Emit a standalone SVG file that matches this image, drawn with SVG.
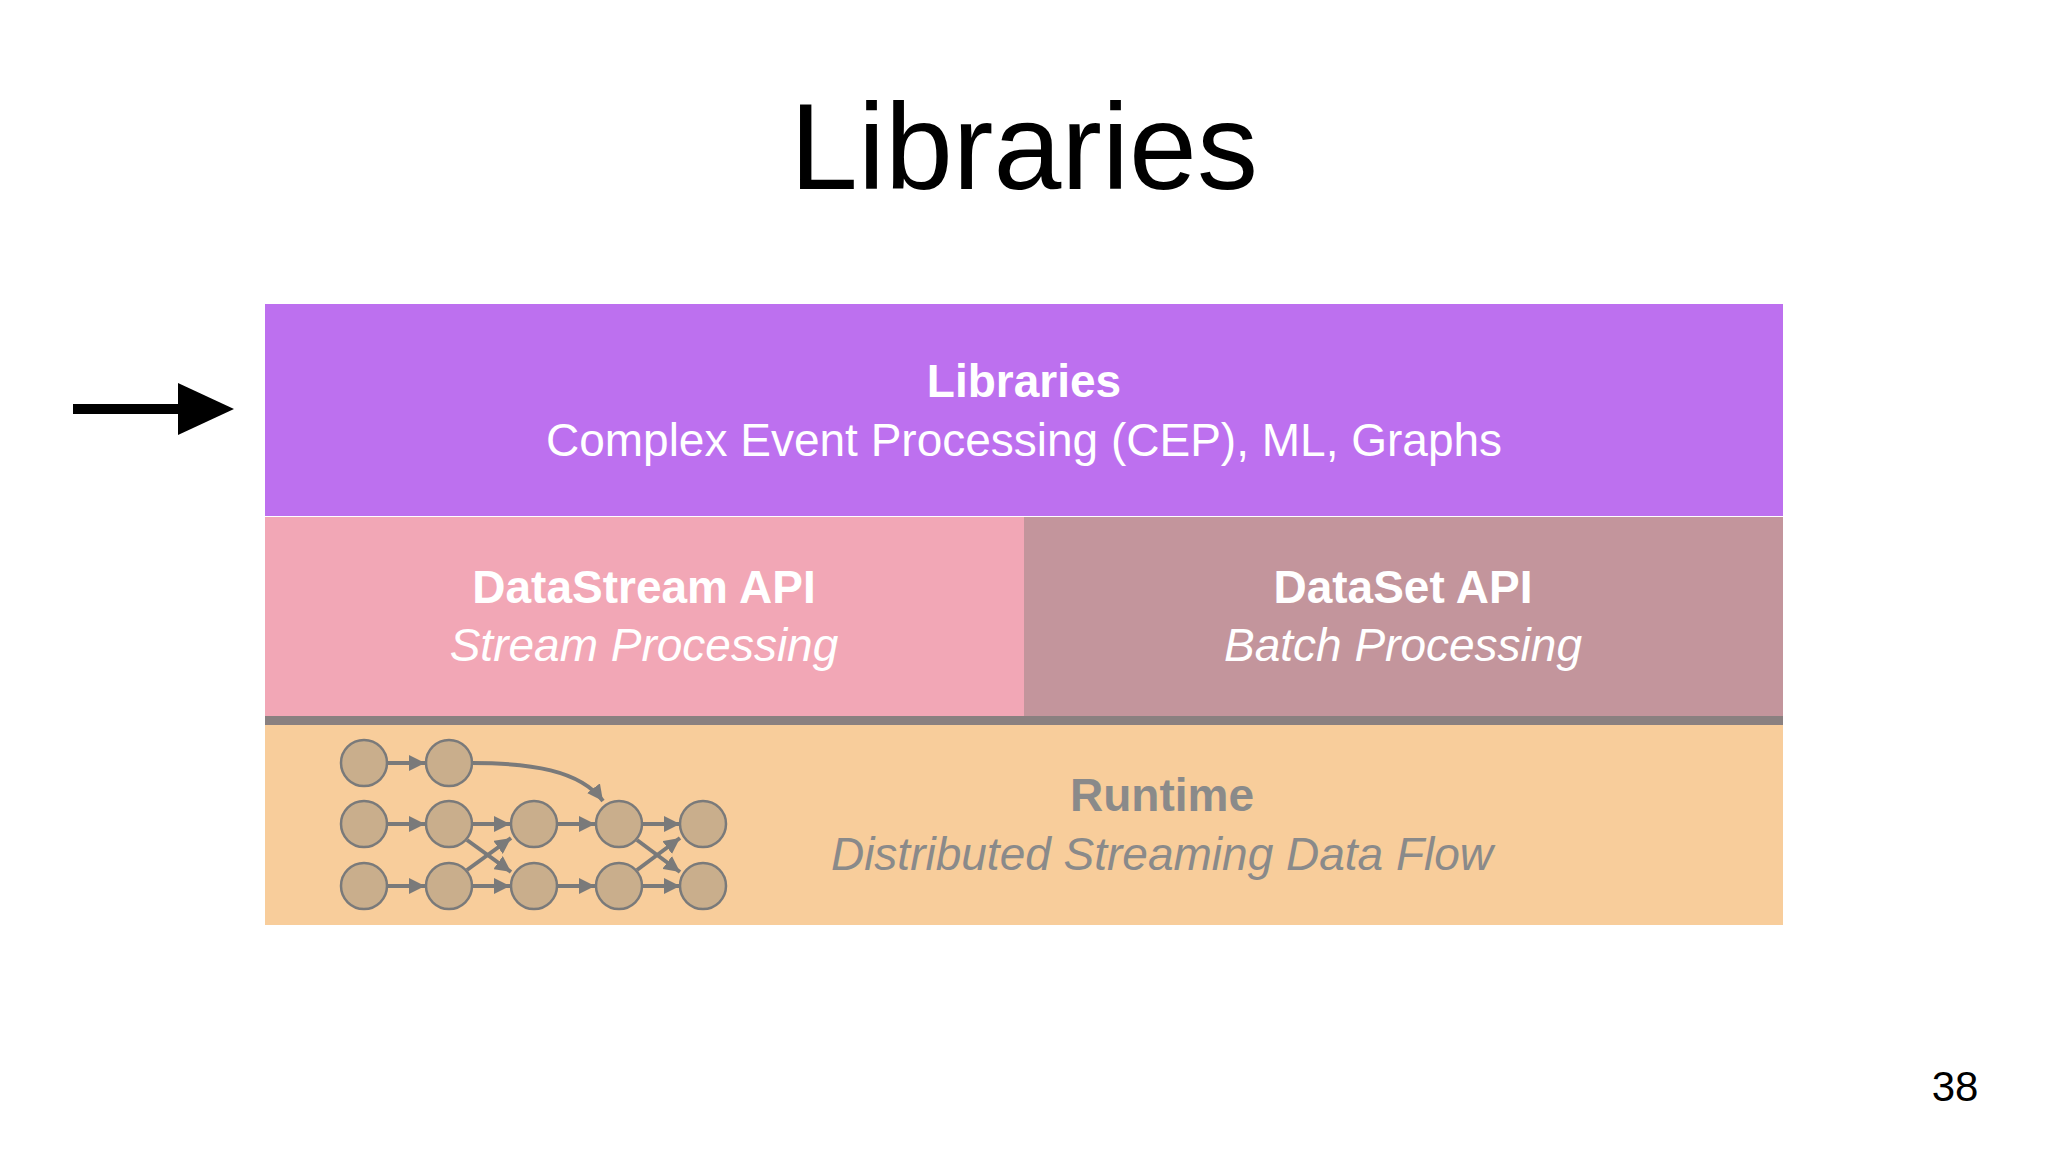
<svg xmlns="http://www.w3.org/2000/svg" width="2048" height="1152" viewBox="0 0 2048 1152">
<defs>
<style>
text{font-family:"Liberation Sans",Arial,sans-serif;text-anchor:middle}
.h{font-weight:bold;font-size:46px;fill:#fff}
.s{font-style:italic;font-size:46px;fill:#fff}
.n{fill:#c9ae8c;stroke:#7a7a7a;stroke-width:2.5}
.e{stroke:#7a7a7a;stroke-width:4;fill:none;marker-end:url(#a)}
</style>
<marker id="a" viewBox="0 0 10 10" refX="10" refY="5" markerWidth="4" markerHeight="4" orient="auto" markerUnits="strokeWidth"><path d="M0,0L10,5L0,10z" fill="#7a7a7a"/></marker>
</defs>
<rect width="2048" height="1152" fill="#fff"/>
<text x="1024" y="189" font-size="122" fill="#000">Libraries</text>
<g id="libraries"><rect x="265" y="304" width="1518" height="212" fill="#bd70ef"/>
<text class="h" x="1024" y="397">Libraries</text>
<text class="h" x="1024" y="456" style="font-weight:normal">Complex Event Processing (CEP), ML, Graphs</text></g>
<g id="datastream"><rect x="265" y="517" width="759" height="199" fill="#f2a7b6"/>
<text class="h" x="644" y="603">DataStream API</text><text class="s" x="644" y="661">Stream Processing</text></g>
<g id="dataset"><rect x="1024" y="517" width="759" height="199" fill="#c3959c"/>
<text class="h" x="1403" y="603">DataSet API</text><text class="s" x="1403" y="661">Batch Processing</text></g>
<rect x="265" y="716" width="1518" height="9" fill="#8a8080"/>
<g id="runtime"><rect x="265" y="725" width="1518" height="200" fill="#f8cd9b"/>
<text class="h" x="1162" y="811" fill="#888" style="fill:#8a8a8a">Runtime</text>
<text class="s" x="1162" y="870" style="fill:#8a8a8a">Distributed Streaming Data Flow</text></g>
<g id="connectors">
<path d="M73,409H185" stroke="#000" stroke-width="10"/><path d="M178,383L234,409L178,435z" fill="#000"/>
<g>
<path class="e" d="M387,763H425"/><path class="e" d="M472,763C530,763 580,770 603,801"/>
<path class="e" d="M387,824H425"/><path class="e" d="M387,886H425"/>
<path class="e" d="M472,824H510"/><path class="e" d="M472,886H510"/>
<path class="e" d="M467,840L511,872"/><path class="e" d="M467,870L511,838"/>
<path class="e" d="M557,824H595"/><path class="e" d="M557,886H595"/>
<path class="e" d="M642,824H680"/><path class="e" d="M642,886H680"/>
<path class="e" d="M637,840L680,872"/><path class="e" d="M637,870L680,838"/>
</g></g>
<g id="graph">
<circle class="n" cx="364" cy="763" r="23"/><circle class="n" cx="449" cy="763" r="23"/>
<circle class="n" cx="364" cy="824" r="23"/><circle class="n" cx="449" cy="824" r="23"/><circle class="n" cx="534" cy="824" r="23"/><circle class="n" cx="619" cy="824" r="23"/><circle class="n" cx="703" cy="824" r="23"/>
<circle class="n" cx="364" cy="886" r="23"/><circle class="n" cx="449" cy="886" r="23"/><circle class="n" cx="534" cy="886" r="23"/><circle class="n" cx="619" cy="886" r="23"/><circle class="n" cx="703" cy="886" r="23"/>
</g>
<text x="1955" y="1101" font-size="42" fill="#000">38</text>
</svg>
